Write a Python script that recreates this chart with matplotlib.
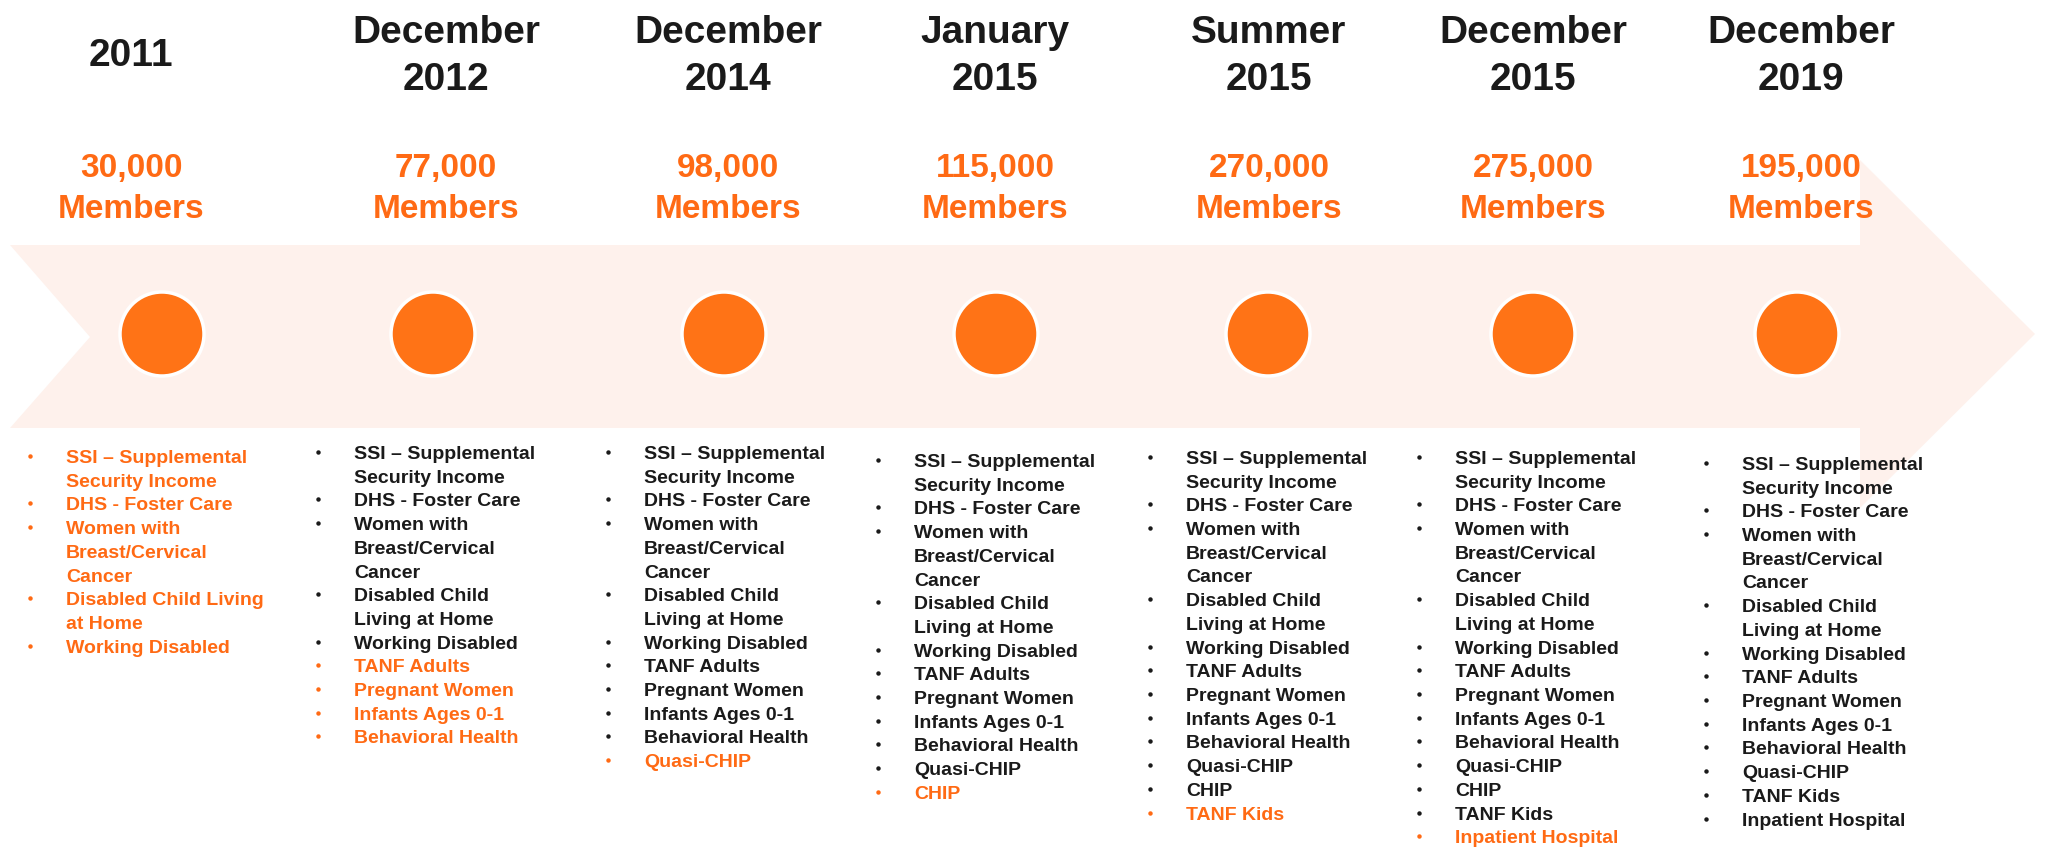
import matplotlib.pyplot as plt
from matplotlib.patches import Circle, Polygon

plt.rcParams['font.family'] = ['Liberation Sans', 'DejaVu Sans']

# data
periods = ['2011', 'December\n2012', 'December\n2014', 'January\n2015',
           'Summer\n2015', 'December\n2015', 'December\n2019']
members = [30000, 77000, 98000, 115000, 270000, 275000, 195000]

programs_2011 = ['SSI – Supplemental\nSecurity Income', 'DHS - Foster Care',
                 'Women with\nBreast/Cervical\nCancer',
                 'Disabled Child Living\nat Home', 'Working Disabled']
programs_2012 = ['SSI – Supplemental\nSecurity Income', 'DHS - Foster Care',
                 'Women with\nBreast/Cervical\nCancer',
                 'Disabled Child\nLiving at Home', 'Working Disabled',
                 'TANF Adults', 'Pregnant Women', 'Infants Ages 0-1',
                 'Behavioral Health']
programs_2014 = programs_2012 + ['Quasi-CHIP']
programs_jan2015 = programs_2014 + ['CHIP']
programs_sum2015 = programs_jan2015 + ['TANF Kids']
programs_dec2015 = programs_sum2015 + ['Inpatient Hospital']
programs_2019 = programs_2014 + ['TANF Kids', 'Inpatient Hospital']
program_lists = [programs_2011, programs_2012, programs_2014, programs_jan2015,
                 programs_sum2015, programs_dec2015, programs_2019]
# number of newly added programs (shown in orange) at the end of each list
new_counts = [5, 4, 1, 1, 1, 1, 0]

# layout (pixels)
W, H = 2049, 850
dot_x = [162, 433, 724, 996, 1268, 1533, 1797]
head_x = [131, 446, 728, 995, 1269, 1533, 1801]
bullet_x = [30, 318, 608, 878, 1150, 1419, 1706]
list_top = [456, 452, 452, 460, 457, 457, 463]
line_h = 23.7

ORANGE = '#FF7316'
TXT_ORANGE = '#FF6A14'
BLACK = '#1A1A1A'

fig = plt.figure(figsize=(W / 100, H / 100), dpi=100)
ax = fig.add_axes([0, 0, 1, 1])
ax.set_xlim(0, W)
ax.set_ylim(H, 0)
ax.axis('off')

# big pale arrow
arrow = Polygon([(10, 245), (1860, 245), (1860, 160), (2035, 334),
                 (1860, 508), (1860, 428), (10, 428), (90, 337)],
                closed=True, fc='#FEF1EC', ec='none', zorder=0)
ax.add_patch(arrow)

for i in range(len(periods)):
    # header
    lines = periods[i].split('\n')
    n = len(lines)
    for j, s in enumerate(lines):
        yc = 52 + (j - (n - 1) / 2) * 47
        ax.text(head_x[i], yc + 14, s, ha='center', va='baseline',
                fontsize=28, fontweight='bold', color=BLACK)
    ax.text(head_x[i], 165 + 11.5, f'{members[i]:,}', ha='center',
            va='baseline', fontsize=24, fontweight='bold', color=TXT_ORANGE)
    ax.text(head_x[i], 206 + 11.5, 'Members', ha='center', va='baseline',
            fontsize=24, fontweight='bold', color=TXT_ORANGE)

    ax.add_patch(Circle((dot_x[i], 334), 42, fc=ORANGE, ec='white', lw=2.5,
                        zorder=2))

    # bullet list
    items = program_lists[i]
    k = 0
    for idx, item in enumerate(items):
        col = TXT_ORANGE if idx >= len(items) - new_counts[i] else BLACK
        y = list_top[i] + k * line_h
        ax.plot(bullet_x[i], y, 'o', ms=3.2, color=col, mec='none')
        for s in item.split('\n'):
            y = list_top[i] + k * line_h
            ax.text(bullet_x[i] + 36, y + 7, s, ha='left', va='baseline',
                    fontsize=14, fontweight='bold', color=col)
            k += 1

fig.savefig('out.png', dpi=100, facecolor='white')
